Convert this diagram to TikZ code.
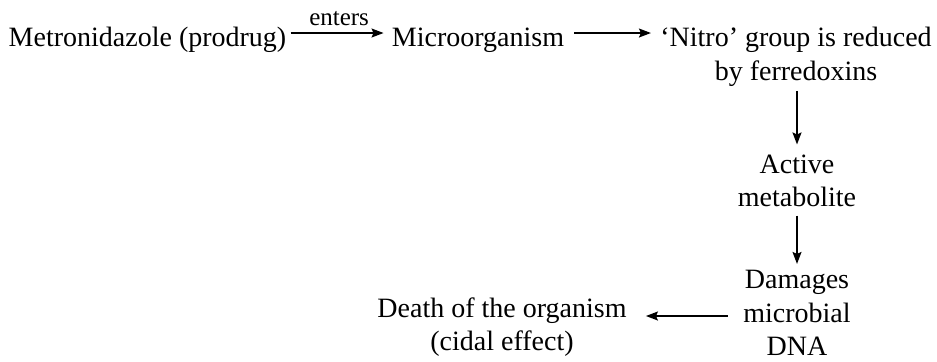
\documentclass[tikz,border=0pt]{standalone}
\usepackage{fontspec}
\setmainfont{Liberation Serif}
\usetikzlibrary{arrows.meta}
\begin{document}
\begin{tikzpicture}[x=0.5pt, y=-0.5pt, >={Stealth[length=6pt, width=4.5pt, inset=1pt]},
  paso/.style={font=\fontsize{14}{16.75}\selectfont, align=center, inner sep=2pt},
  flecha/.style={->, line width=0.7pt}]
\useasboundingbox (0,0) rectangle (937,361);
\node[paso] (drug)    at (147.5,40) {Metronidazole (prodrug)};
\node[paso] (micro)   at (478,40)   {Microorganism};
\node[paso] (nitro)   at (796,57)   {`Nitro' group is reduced\\by ferredoxins};
\node[paso] (active)  at (797,181)  {Active\\metabolite};
\node[paso] (damages) at (797,313)  {Damages\\microbial\\DNA};
\node[paso] (death)   at (502,327)  {Death of the organism\\(cidal effect)};
\draw[flecha, shorten >=2pt] ([yshift=3.5pt]drug.east) -- node[above, font=\fontsize{12.5}{13}\selectfont] {enters} ([yshift=3.5pt]micro.west);
\draw[flecha, shorten <=3pt, shorten >=2.5pt] ([yshift=3.5pt]micro.east) -- ([yshift=3.5pt]micro.east -| nitro.west);
\draw[flecha, shorten >=3pt] (nitro.south -| active) -- (active);
\draw[flecha, shorten <=2pt, shorten >=1pt] (active) -- (damages);
\draw[flecha, shorten <=5.5pt, shorten >=7.5pt] ([yshift=-1.5pt]damages.west) -- ([yshift=-1.5pt]damages.west -| death.east);
\end{tikzpicture}
\end{document}
